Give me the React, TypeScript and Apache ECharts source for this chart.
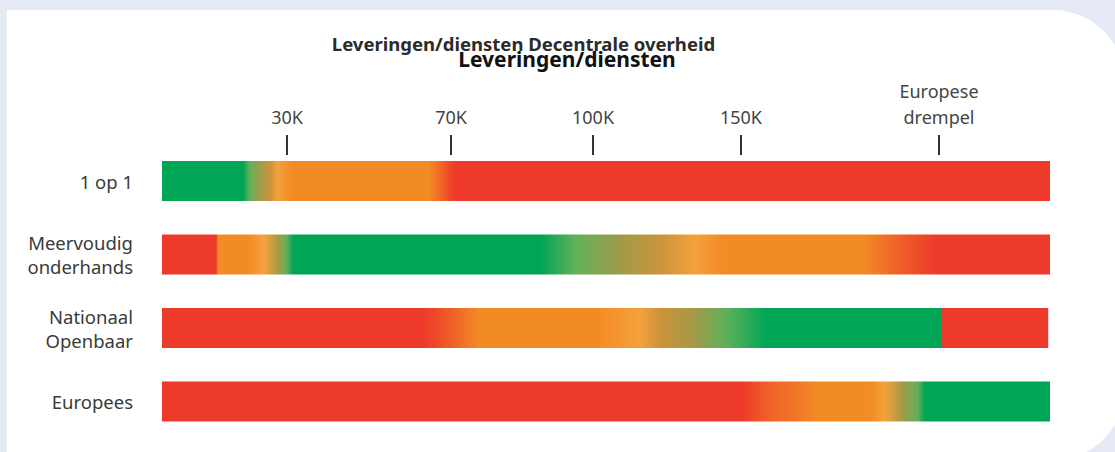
import React, { useEffect, useRef } from "react";
import * as echarts from "echarts";

// ---- data ----
const CATEGORIES = ["1 op 1", "Meervoudig\nonderhands", "Nationaal\nOpenbaar", "Europees"];
// bar length in percent of the scale
const BAR_ENDS = [100, 100, 99.8, 100];
// top scale: tick positions (percent of the bar) and their labels
const TICK_POSITIONS = [14.08, 32.55, 48.54, 65.2, 87.5];
const TICK_LABELS = ["30K", "70K", "100K", "150K", "Europese\ndrempel"];

// colour zones along each bar: [position %, zone key]
// g = groen, y = licht groen, o = olijf, t = bruin/oranje, l = licht oranje, a = oranje, x = oranje-rood, r = rood
const STOPS_1OP1: [number, string][] = [
  [0, "g"], [9.1, "g"], [9.9, "y"], [11.1, "o"], [12.2, "t"], [13.0, "l"], [14.6, "a"],
  [30.1, "a"], [31.6, "x"], [32.9, "r"], [100, "r"],
];
const STOPS_MEERVOUDIG: [number, string][] = [
  [0, "r"], [6.1, "r"], [6.3, "a"], [9.7, "a"], [11.5, "l"], [13.2, "o"], [14.0, "y"], [14.8, "g"],
  [42.6, "g"], [46.7, "y"], [52.0, "o"], [56.2, "t"], [59.9, "l"], [63.2, "a"],
  [78.9, "a"], [83.1, "x"], [87.2, "r"], [100, "r"],
];
const STOPS_NATIONAAL: [number, string][] = [
  [0, "r"], [29.4, "r"], [32.6, "x"], [35.8, "a"], [49.1, "a"], [53.7, "l"], [56.2, "t"],
  [59.9, "o"], [63.2, "y"], [68.1, "g"], [87.7, "g"], [87.8, "r"], [99.8, "r"],
];
const STOPS_EUROPEES: [number, string][] = [
  [0, "r"], [65.3, "r"], [68.1, "x"], [74.0, "a"], [79.7, "a"], [81.4, "l"], [83.4, "o"],
  [85.1, "y"], [85.9, "g"], [100, "g"],
];
const BAR_STOPS = [STOPS_1OP1, STOPS_MEERVOUDIG, STOPS_NATIONAAL, STOPS_EUROPEES];

// ---- styles ----
const PALETTE: Record<string, string> = {
  g: "#00a555",
  y: "#64b05a",
  o: "#a39a47",
  t: "#cc933c",
  l: "#f4a13c",
  a: "#f38b25",
  x: "#ef5f28",
  r: "#ed3a2a",
};
const FONT = '"Noto Sans", sans-serif';

export default function App() {
  const ref = useRef<HTMLDivElement>(null);

  useEffect(() => {
    if (!ref.current) return;
    const chart = echarts.init(ref.current, undefined, { renderer: "svg" });

    const data = CATEGORIES.map((c, i) => ({
      value: BAR_ENDS[i],
      itemStyle: {
        color: new echarts.graphic.LinearGradient(
          0, 0, 1, 0,
          BAR_STOPS[i].map(([p, k]) => ({ offset: Math.min(1, p / BAR_ENDS[i]), color: PALETTE[k] }))
        ),
      },
    }));

    const labelFor = (v: number) => {
      const idx = TICK_POSITIONS.findIndex((t) => Math.abs(t - v) < 1e-6);
      return idx >= 0 ? TICK_LABELS[idx] : "";
    };

    chart.setOption({
      animation: false,
      backgroundColor: "transparent",
      grid: { left: 162, right: 65, top: 144.25, bottom: 13.75, containLabel: false },
      xAxis: [
        { type: "value", min: 0, max: 100, show: false },
        {
          type: "value",
          min: 0,
          max: 100,
          position: "top",
          offset: -10.75,
          axisLine: { show: false },
          splitLine: { show: false },
          axisTick: {
            show: true,
            length: 20,
            customValues: TICK_POSITIONS,
            lineStyle: { color: "#333333", width: 2 },
          },
          axisLabel: {
            customValues: TICK_POSITIONS,
            formatter: (v: number) => labelFor(v),
            color: "#444444",
            fontSize: 18,
            lineHeight: 26,
            margin: 25,
            fontFamily: FONT,
          },
        },
      ],
      yAxis: {
        type: "category",
        data: CATEGORIES,
        inverse: true,
        axisLine: { show: false },
        axisTick: { show: false },
        splitLine: { show: false },
        axisLabel: {
          color: "#3a3a3a",
          fontSize: 18.5,
          lineHeight: 24,
          margin: 29,
          align: "right",
          fontFamily: FONT,
        },
      },
      graphic: [
        {
          type: "text",
          x: 523.5,
          y: 43,
          style: {
            text: "Leveringen/diensten Decentrale overheid",
            align: "center",
            verticalAlign: "middle",
            fontSize: 18.5,
            fontWeight: "bold",
            fontFamily: FONT,
            fill: "#2b2b2b",
          },
        },
        {
          type: "text",
          x: 567,
          y: 59,
          style: {
            text: "Leveringen/diensten",
            align: "center",
            verticalAlign: "middle",
            fontSize: 21,
            fontWeight: "bold",
            fontFamily: FONT,
            fill: "#111111",
          },
        },
      ],
      series: [
        {
          type: "bar",
          xAxisIndex: 0,
          yAxisIndex: 0,
          barWidth: 40,
          silent: true,
          data,
        },
      ],
    });

    return () => chart.dispose();
  }, []);

  return (
    <div
      style={{
        position: "fixed",
        left: 0,
        top: 0,
        width: 1115,
        height: 452,
        background: "#e4e9f5",
        overflow: "hidden",
      }}
    >
      <div
        style={{
          position: "absolute",
          left: 7,
          top: 10,
          width: 1118,
          height: 450,
          background: "#ffffff",
          borderRadius: "0 72px 72px 0",
        }}
      />
      <div ref={ref} style={{ position: "absolute", left: 0, top: 0, width: 1115, height: 452 }} />
    </div>
  );
}
